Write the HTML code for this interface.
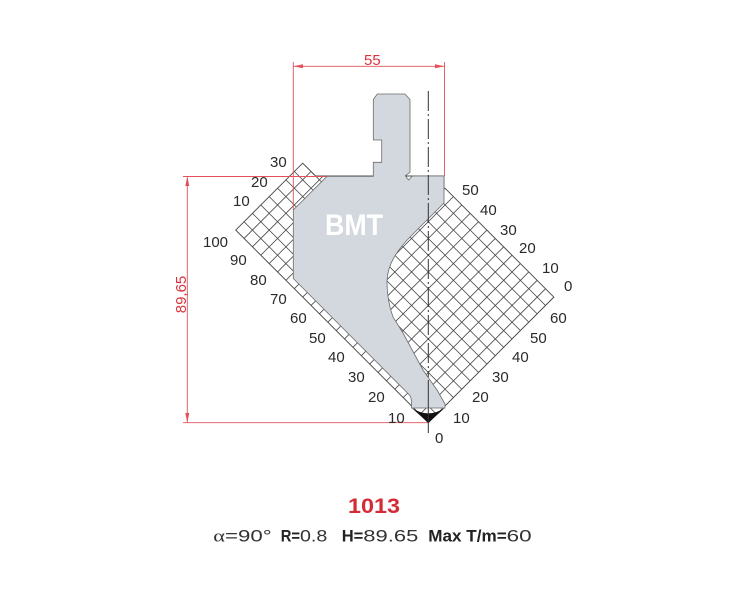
<!DOCTYPE html>
<html><head><meta charset="utf-8"><style>
html,body{margin:0;padding:0;background:#fff;}
svg{display:block;}
</style></head><body>
<svg width="740" height="601" viewBox="0 0 740 601" xmlns="http://www.w3.org/2000/svg">
<defs>
<clipPath id="g"><polygon points="428.3,422.7 235.7,230.1 302.7,163.1 315.6,176 444,176 444,189.25 445.05,188.2 553.9,297.1"/></clipPath>
</defs>
<rect width="740" height="601" fill="#fff"/>
<g clip-path="url(#g)" stroke="#4a4a4a" stroke-width="0.8" fill="none">
<path d="M701,150 l-350,350m333.25,-350 l-350,350m333.25,-350 l-350,350m333.25,-350 l-350,350m333.25,-350 l-350,350m333.25,-350 l-350,350m333.25,-350 l-350,350m333.25,-350 l-350,350m333.25,-350 l-350,350m333.25,-350 l-350,350m333.25,-350 l-350,350m333.25,-350 l-350,350m333.25,-350 l-350,350m333.25,-350 l-350,350m333.25,-350 l-350,350m333.25,-350 l-350,350m333.25,-350 l-350,350m333.25,-350 l-350,350m333.25,-350 l-350,350m333.25,-350 l-350,350m333.25,-350 l-350,350m333.25,-350 l-350,350m333.25,-350 l-350,350m333.25,-350 l-350,350"/>
<path d="M155.6,150 l350,350m-333.25,-350 l350,350m-333.25,-350 l350,350m-333.25,-350 l350,350m-333.25,-350 l350,350m-333.25,-350 l350,350m-333.25,-350 l350,350m-333.25,-350 l350,350m-333.25,-350 l350,350m-333.25,-350 l350,350m-333.25,-350 l350,350m-333.25,-350 l350,350m-333.25,-350 l350,350m-333.25,-350 l350,350m-333.25,-350 l350,350m-333.25,-350 l350,350"/>
</g>
<polygon points="428.3,422.7 235.7,230.1 302.7,163.1 315.6,176 444,176 444,189.25 445.05,188.2 553.9,297.1" fill="none" stroke="#4a4a4a" stroke-width="0.9"/>

<!-- red dimensions -->
<g stroke="#e4505a" stroke-width="0.9" fill="none">
<line x1="293.3" y1="62" x2="293.3" y2="210"/>
<line x1="444.5" y1="62" x2="444.5" y2="176"/>
<line x1="293.3" y1="66.3" x2="444.5" y2="66.3"/>
<line x1="183" y1="176.5" x2="327" y2="176.5"/>
<line x1="183" y1="422.7" x2="428" y2="422.7"/>
<line x1="187.3" y1="176.5" x2="187.3" y2="422.7"/>
</g>
<g fill="#e4505a">
<polygon points="293.3,66.3 303,64.3 303,68.3"/>
<polygon points="444.5,66.3 435,64.3 435,68.3"/>
<polygon points="187.3,176.5 185.3,186 189.3,186"/>
<polygon points="187.3,422.7 185.3,413 189.3,413"/>
</g>

<!-- punch -->
<path d="M377.3,94 L405,94 L410,99.5 L410,172.3 L405.3,175.7 L408.5,180 L412.5,176 L444,176 L444,203 L412,235 C398,249 387,264 387,282 C387,296 389,306 393,317 L403,333 L423,370 L437,390 L445,404 L445,408 L411.5,408 L411.5,402 Q411.5,397 408.5,394 L293.3,278.5 L293.3,210 L327,176.3 L373.3,176.3 L373.3,162.3 L381.7,162.3 L381.7,140 L373.3,140 L373.3,99.5 Z" fill="#d3d8de" stroke="#6b6b6b" stroke-width="0.8"/>
<path d="M411.5,407.7 Q428.3,419 445,407.7 L428.3,422.9 Z" fill="#111"/>

<!-- centerline -->
<line x1="428.3" y1="91" x2="428.3" y2="377" stroke="#333" stroke-width="1" stroke-dasharray="20,3,2,3"/>
<line x1="428.3" y1="380" x2="428.3" y2="433" stroke="#333" stroke-width="1"/>

<text x="325" y="235" font-family="Liberation Sans, sans-serif" font-weight="bold" font-size="30" fill="#fff" textLength="58" lengthAdjust="spacingAndGlyphs">BMT</text>

<g font-family="Liberation Sans, sans-serif" font-size="15" fill="#2a2a2a">
<text x="203" y="247">100</text>
<text x="230" y="265">90</text>
<text x="250" y="285">80</text>
<text x="270" y="304">70</text>
<text x="290" y="323">60</text>
<text x="309" y="343">50</text>
<text x="328" y="362">40</text>
<text x="348" y="382">30</text>
<text x="368" y="402">20</text>
<text x="388" y="423">10</text>
<text x="270" y="167">30</text>
<text x="251" y="187">20</text>
<text x="233" y="206">10</text>
<text x="453" y="423">10</text>
<text x="472" y="402">20</text>
<text x="492" y="382">30</text>
<text x="512" y="362">40</text>
<text x="530" y="343">50</text>
<text x="550" y="323">60</text>
<text x="462" y="195">50</text>
<text x="480" y="215">40</text>
<text x="500" y="235">30</text>
<text x="519" y="253">20</text>
<text x="542" y="273">10</text>
<text x="564" y="291">0</text>
<text x="435" y="443">0</text>
</g>

<text x="364" y="65" font-family="Liberation Sans, sans-serif" font-size="15" fill="#d9343e">55</text>
<text transform="translate(186,294.5) rotate(-90)" text-anchor="middle" font-family="Liberation Sans, sans-serif" font-size="15" fill="#d9343e">89,65</text>

<text x="348" y="513" font-family="Liberation Sans, sans-serif" font-weight="bold" font-size="21" fill="#d52b36" textLength="52" lengthAdjust="spacingAndGlyphs">1013</text>

<g font-size="17" fill="#333">
<text x="213.3" y="541.7" font-family="Liberation Serif, serif" textLength="11.7" lengthAdjust="spacingAndGlyphs">α</text>
<text x="225" y="541.7" font-family="Liberation Sans, sans-serif" textLength="46.7" lengthAdjust="spacingAndGlyphs">=90°</text>
<text x="280.7" y="541.7" font-family="Liberation Sans, sans-serif" font-weight="bold" fill="#222" textLength="19.3" lengthAdjust="spacingAndGlyphs">R=</text>
<text x="300" y="541.7" font-family="Liberation Sans, sans-serif" textLength="27.3" lengthAdjust="spacingAndGlyphs">0.8</text>
<text x="341.7" y="541.7" font-family="Liberation Sans, sans-serif" font-weight="bold" fill="#222" textLength="21.6" lengthAdjust="spacingAndGlyphs">H=</text>
<text x="363.3" y="541.7" font-family="Liberation Sans, sans-serif" textLength="55" lengthAdjust="spacingAndGlyphs">89.65</text>
<text x="428.3" y="541.7" font-family="Liberation Sans, sans-serif" font-weight="bold" fill="#222" textLength="78.4" lengthAdjust="spacingAndGlyphs">Max T/m=</text>
<text x="506.7" y="541.7" font-family="Liberation Sans, sans-serif" textLength="25" lengthAdjust="spacingAndGlyphs">60</text>
</g>
</svg>
</body></html>
